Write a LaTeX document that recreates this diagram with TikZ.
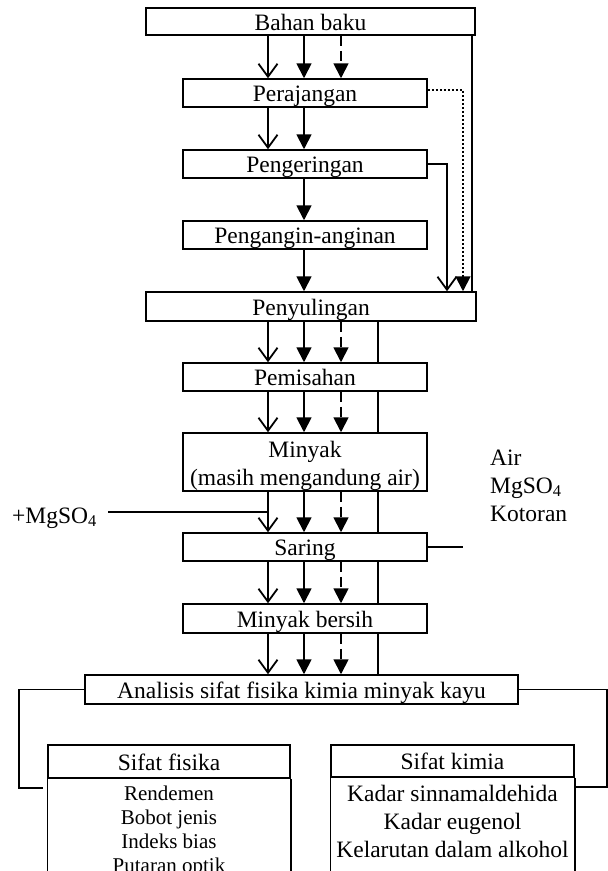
\documentclass[tikz,border=0pt]{standalone}
\usepackage{fontspec}
\setmainfont{Liberation Serif}
\usetikzlibrary{arrows.meta}

\newcommand{\boxfont}{\fontsize{23.5}{28}\selectfont}
\newcommand{\listfont}{\fontsize{21}{24}\selectfont}

\tikzset{
  stage/.style={draw, line width=1.5pt, inner sep=0pt, minimum height=28, text height=17pt, text depth=0pt, font=\boxfont},
  flowline/.style={line width=1.8pt},
  openarr/.style={flowline, -{Straight Barb[length=13pt,width=19pt]}},
  fillarr/.style={flowline, -{Triangle[length=15pt,width=15pt]}},
  dasharr/.style={fillarr, dash pattern={on 10pt off 5pt}},
  dotarr/.style={fillarr, dash pattern={on 1.8pt off 2.2pt}},
}

\begin{document}
\begin{tikzpicture}[x=1pt,y=1pt,yscale=-1]
\useasboundingbox (0,0) rectangle (608,871);

% columns of the streams
\coordinate (c1) at (268,0);
\coordinate (c2) at (304,0);
\coordinate (c3) at (341,0);
\coordinate (c4) at (378,0);
\coordinate (c5) at (447,0);
\coordinate (c6) at (463,0);
\coordinate (c7) at (472,0);

% process boxes
\node[stage, minimum width=329, minimum height=27] (bahan) at (310.5,21.5) {Bahan baku};
\node[stage, minimum width=244] (peraj) at (305,93) {Perajangan};
\node[stage, minimum width=244] (penger) at (305,164) {Pengeringan};
\node[stage, minimum width=244] (pengan) at (305,235) {Pengangin-anginan};
\node[stage, minimum width=330, minimum height=29] (penyul) at (311,306.5) {Penyulingan};
\node[stage, minimum width=244] (pemis) at (305,377) {Pemisahan};
\node[stage, minimum width=244, minimum height=58, align=center, text height=49pt, text depth=3pt] (minyak) at (305,462) {Minyak\\(masih mengandung air)};
\node[stage, minimum width=244] (saring) at (305,547) {Saring};
\node[stage, minimum width=244, minimum height=29] (bersih) at (305,618.5) {Minyak bersih};
\node[stage, minimum width=433, minimum height=29] (analisis) at (301.5,689.5) {Analisis sifat fisika kimia minyak kayu};

% property tables
\node[stage, minimum width=242, minimum height=33] (fishead) at (169,761.5) {Sifat fisika};
\node[stage, minimum width=243, minimum height=32] (kimhead) at (452.5,761) {Sifat kimia};
\draw[line width=1.5pt] (fishead.south west) -- ++(0,110) (fishead.south east) -- ++(0,110);
\draw[line width=1.5pt] (kimhead.south west) -- ++(0,110) (kimhead.south east) -- ++(0,110);
\node[anchor=north, inner sep=7pt, align=center, font=\listfont] (fislist) at (fishead.south) {Rendemen\\Bobot jenis\\Indeks bias\\Putaran optik};
\node[anchor=north, inner sep=7pt, align=center, font=\boxfont] (kimlist) at (kimhead.south) {Kadar sinnamaldehida\\Kadar eugenol\\Kelarutan dalam alkohol};

% side inputs and outputs
\node[anchor=base east, inner sep=0pt, font=\boxfont] (mgin) at (97,523) {+MgSO\textsubscript{4}};
\node[anchor=base west, inner sep=0pt, font=\boxfont] (wair) at (490,465) {Air};
\node[anchor=base west, inner sep=0pt, font=\boxfont] (wmg) at (490,493) {MgSO\textsubscript{4}};
\node[anchor=base west, inner sep=0pt, font=\boxfont] (wkot) at (490,521) {Kotoran};

% main streams
\foreach \a/\b in {bahan/peraj, penyul/pemis, pemis/minyak, minyak/saring, saring/bersih, bersih/analisis} {
  \draw[openarr] (\a.south -| c1) -- (\b.north -| c1);
  \draw[fillarr] (\a.south -| c2) -- (\b.north -| c2);
  \draw[dasharr] (\a.south -| c3) -- (\b.north -| c3);
}
\foreach \a/\b in {penyul/pemis, pemis/minyak, minyak/saring, saring/bersih, bersih/analisis}
  \draw[flowline] (\a.south -| c4) -- (\b.north -| c4);
\draw[openarr] (peraj.south -| c1) -- (penger.north -| c1);
\draw[fillarr] (peraj.south -| c2) -- (penger.north -| c2);
\draw[fillarr] (penger.south -| c2) -- (pengan.north -| c2);
\draw[fillarr] (pengan.south -| c2) -- (penyul.north -| c2);

% bypasses to the still
\draw[flowline] (bahan.south -| c7) -- (penyul.north -| c7);
\draw[dotarr] ([yshift=-3pt]peraj.east) -| (penyul.north -| c6);
\draw[openarr] (penger.east) -| (penyul.north -| c5);

% MgSO4 in, waste out
\coordinate (mgstart) at (108,512);
\draw[flowline] (mgstart) -- (mgstart -| c1);
\coordinate (wout) at (463,547);
\draw[flowline] (saring.east) -- (wout);

% branches to the tables
\coordinate (lcorner) at (19,788);
\draw[flowline] (analisis.west) -| (lcorner) -- ([xshift=-4pt]lcorner -| fishead.west);
\coordinate (rcorner) at (607,787);
\draw[flowline] (analisis.east) -| (rcorner) -- (rcorner -| kimhead.east);

\end{tikzpicture}
\end{document}
